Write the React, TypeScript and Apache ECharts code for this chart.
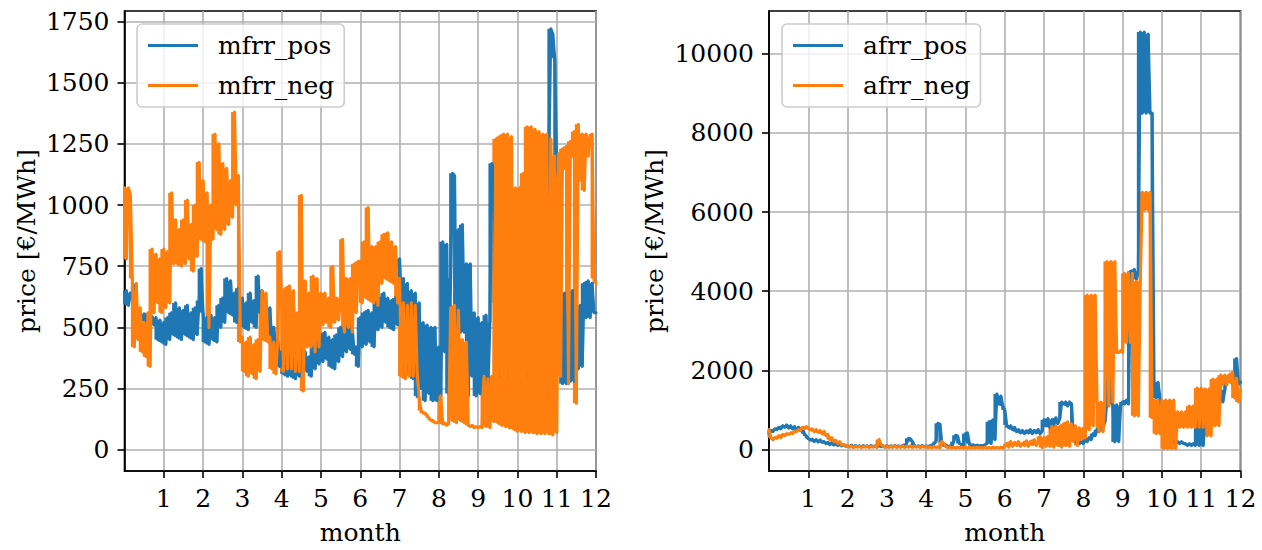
import React, { useEffect, useRef } from "react";
import * as echarts from "echarts";

// sampling step of the series, in months
const STEP = 0.05;
const SAMPLES_PER_MONTH = 20;

const MONTH_TICKS = [1, 2, 3, 4, 5, 6, 7, 8, 9, 10, 11, 12];
const MFRR_TICKS = [0, 250, 500, 750, 1000, 1250, 1500, 1750];
const AFRR_TICKS = [0, 2000, 4000, 6000, 8000, 10000];

// mFRR capacity prices, one row per month (20 samples per month)
const mfrrPos = [
  600, 650, 590, 640, 620, 670, 560, 540, 560, 530, 555, 525, 550, 520, 545, 510, 540, 450, 530, 440,
  520, 430, 540, 450, 560, 470, 600, 460, 580, 450, 570, 470, 590, 460, 560, 450, 580, 470, 610, 740,
  560, 440, 540, 430, 550, 450, 540, 440, 590, 500, 620, 520, 700, 560, 690, 550, 640, 520, 660, 540,
  620, 500, 600, 490, 640, 520, 610, 500, 710, 560, 650, 520, 600, 470, 580, 430, 500, 400, 450, 340,
  400, 310, 380, 300, 390, 300, 370, 290, 380, 300, 410, 320, 400, 320, 380, 300, 420, 330, 440, 350,
  470, 360, 480, 370, 460, 340, 450, 330, 470, 360, 500, 380, 510, 400, 520, 410, 490, 390, 420, 340,
  540, 420, 560, 430, 570, 440, 560, 420, 600, 490, 620, 500, 640, 520, 620, 500, 610, 490, 620, 510,
  780, 600, 700, 300, 680, 320, 650, 290, 640, 220, 600, 250, 520, 200, 510, 230, 500, 200, 500, 200,
  420, 220, 850, 400, 840, 230, 700, 1130, 1120, 300, 900, 480, 920, 480, 760, 220, 760, 300, 560, 220,
  540, 230, 520, 220, 550, 250, 520, 1170, 1150, 600, 800, 300, 900, 350, 700, 300, 800, 350, 900, 400,
  800, 350, 900, 400, 700, 300, 800, 350, 900, 400, 1000, 400, 900, 350, 800, 400, 1200, 1720, 1700, 1600,
  1180, 1100, 650, 270, 640, 270, 600, 280, 650, 280, 600, 330, 590, 340, 680, 540, 690, 540, 680, 560,
  560,
];

const mfrrNeg = [
  1070, 780, 1070, 1040, 700, 420, 680, 450, 580, 400, 520, 380, 560, 340, 820, 560, 800, 600, 780, 560,
  820, 580, 810, 600, 1050, 760, 940, 760, 900, 750, 940, 760, 1020, 780, 920, 730, 1000, 790, 1175, 860,
  1100, 850, 1050, 500, 1000, 860, 1290, 900, 1250, 880, 1170, 900, 1150, 920, 1100, 950, 1380, 1000, 1120, 440,
  460, 320, 440, 300, 460, 310, 430, 290, 450, 320, 650, 450, 640, 440, 460, 330, 440, 310, 450, 810,
  600, 320, 660, 330, 670, 330, 650, 320, 560, 320, 1040, 240, 690, 420, 640, 420, 710, 400, 700, 420,
  640, 510, 640, 520, 620, 500, 750, 520, 620, 530, 620, 860, 480, 700, 500, 700, 480, 760, 560, 770,
  770, 600, 850, 620, 990, 610, 830, 600, 830, 590, 850, 680, 880, 700, 887, 690, 850, 680, 830, 600,
  700, 300, 600, 290, 590, 300, 600, 300, 590, 310, 210, 160, 150, 150, 140, 130, 120, 120, 110, 110,
  110, 220, 105, 110, 100, 105, 580, 120, 590, 110, 570, 120, 450, 110, 440, 100, 95, 100, 90, 95,
  90, 95, 90, 300, 95, 290, 90, 300, 115, 1270, 110, 1280, 100, 1290, 95, 1290, 90, 1280, 85, 1070,
  75, 1070, 75, 1130, 70, 1320, 70, 1320, 70, 1310, 65, 1300, 65, 1290, 65, 1290, 65, 1270, 60, 1200,
  70, 1210, 300, 1230, 1150, 1240, 270, 1260, 1200, 1300, 190, 1330, 1100, 1290, 1060, 1290, 1200, 1280, 1290, 700,
  680,
];

// aFRR capacity prices, one row per month (20 samples per month)
const afrrPos = [
  400, 480, 450, 520, 500, 560, 520, 600, 560, 620, 540, 600, 520, 580, 500, 560, 480, 540, 400, 340,
  280, 240, 260, 200, 250, 190, 240, 180, 200, 150, 180, 120, 170, 110, 150, 100, 140, 90, 120, 80,
  100, 70, 110, 60, 100, 70, 90, 60, 100, 70, 90, 60, 100, 70, 90, 60, 100, 70, 90, 60,
  100, 70, 90, 60, 100, 70, 90, 60, 100, 70, 150, 280, 270, 200, 100, 70, 90, 60, 100, 70,
  90, 60, 100, 70, 150, 200, 660, 640, 150, 100, 120, 70, 90, 60, 200, 360, 340, 150, 120, 80,
  400, 420, 150, 100, 120, 90, 110, 80, 100, 90, 120, 150, 700, 150, 750, 250, 1400, 1150, 1350, 1100,
  1000, 620, 550, 600, 500, 560, 450, 500, 420, 480, 400, 470, 420, 500, 400, 480, 420, 500, 400, 460,
  750, 600, 780, 560, 750, 600, 800, 650, 780, 1200, 1150, 1200, 1100, 1200, 1150, 250, 200, 250, 150, 200,
  150, 250, 200, 300, 250, 400, 350, 500, 450, 600, 550, 700, 1200, 2750, 1180, 1150, 190, 1130, 200, 1100,
  1200, 1150, 1250, 1150, 4500, 4300, 4550, 4300, 4500, 10550, 8500, 10550, 8500, 10500, 8500, 8500, 1700, 1300, 1700, 1300,
  700, 500, 700, 500, 600, 450, 200, 150, 200, 150, 200, 150, 150, 100, 150, 100, 150, 100, 750, 100,
  750, 100, 750, 800, 1000, 900, 1000, 1100, 1200, 1000, 1500, 1200, 1500, 1800, 1850, 1700, 1850, 1600, 2300, 1650,
  1700,
];

const afrrNeg = [
  500, 300, 250, 300, 280, 350, 300, 380, 350, 400, 380, 420, 400, 460, 450, 500, 480, 560, 520, 580,
  540, 500, 520, 450, 500, 430, 480, 400, 460, 350, 380, 250, 300, 200, 230, 150, 200, 110, 130, 90,
  100, 60, 90, 50, 80, 60, 90, 50, 80, 60, 90, 50, 80, 60, 90, 60, 250, 120, 80, 60,
  90, 50, 80, 60, 90, 50, 80, 60, 90, 50, 80, 60, 90, 50, 80, 60, 90, 50, 80, 60,
  80, 50, 70, 40, 80, 50, 70, 40, 200, 150, 80, 40, 70, 40, 60, 30, 60, 40, 60, 30,
  60, 30, 60, 30, 50, 30, 60, 30, 50, 30, 60, 30, 50, 30, 60, 30, 50, 30, 60, 30,
  80, 150, 60, 200, 80, 180, 100, 200, 80, 150, 100, 220, 80, 200, 120, 250, 100, 200, 330, 50,
  300, 80, 330, 80, 580, 60, 600, 100, 580, 60, 650, 100, 700, 80, 650, 200, 600, 100, 550, 250,
  540, 290, 3900, 500, 3900, 600, 3900, 1200, 450, 1200, 450, 1200, 4750, 1100, 4750, 1200, 4750, 2450, 2450, 2500,
  2450, 4450, 2700, 4450, 2700, 4450, 850, 4250, 850, 4250, 6500, 6050, 6500, 6050, 6500, 800, 1250, 400, 1250, 400,
  1250, 20, 1250, 20, 1250, 20, 1250, 20, 950, 560, 950, 560, 950, 560, 1100, 560, 1100, 560, 1550, 560,
  1550, 560, 1530, 340, 1530, 340, 1780, 600, 1780, 600, 1880, 1630, 1880, 1630, 1880, 1700, 1950, 1300, 1800, 1200,
  1500,
];

const BLUE = "#1f77b4";
const ORANGE = "#ff7f0e";
const FONT = "DejaVu Serif";
const FS = 25;
const LW = 3.1;

// sample positions (months) shared by all series
const SAMPLE_MONTHS = mfrrPos.map((_, i) => (i * STEP).toFixed(2));

const isMonthTick = (index: number) =>
  index > 0 && index % SAMPLES_PER_MONTH === 0 && MONTH_TICKS.includes(index / SAMPLES_PER_MONTH);

// low value and height of the range the price covers between a sample and the next
function segmentRanges(values: number[]) {
  const low: number[] = [];
  const span: number[] = [];
  values.forEach((v, i) => {
    const next = i + 1 < values.length ? values[i + 1] : v;
    const a = Math.min(v, next);
    low.push(a);
    span.push(Math.max(v, next) - a);
  });
  return { low, span };
}

function makeX(gridIndex: number) {
  return {
    type: "category",
    gridIndex,
    data: SAMPLE_MONTHS,
    boundaryGap: false,
    name: "month",
    nameLocation: "middle",
    nameGap: 49,
    nameTextStyle: { fontFamily: FONT, fontSize: FS, color: "#000" },
    axisLine: { show: true, onZero: false, lineStyle: { color: "#000", width: 1.6 } },
    axisTick: {
      show: true,
      interval: (i: number) => isMonthTick(i),
      length: 7,
      lineStyle: { color: "#000", width: 1.6 },
    },
    axisLabel: {
      interval: (i: number) => isMonthTick(i),
      formatter: (v: string) => {
        const m = Math.round(parseFloat(v));
        return m === 0 ? "" : String(m);
      },
      fontFamily: FONT,
      fontSize: FS,
      color: "#000",
      margin: 15,
      hideOverlap: false,
    },
    splitLine: {
      show: true,
      interval: (i: number) => isMonthTick(i),
      lineStyle: { color: "#b0b0b0", width: 1.6 },
    },
  };
}

function makeY(gridIndex: number, min: number, max: number, ticks: number[], gap: number) {
  return {
    type: "value",
    gridIndex,
    min,
    max,
    name: "price [€/MWh]",
    nameLocation: "middle",
    nameGap: gap,
    nameTextStyle: { fontFamily: FONT, fontSize: FS, color: "#000" },
    axisLine: { show: true, lineStyle: { color: "#000", width: 1.6 } },
    axisTick: { show: true, customValues: ticks, length: 7, lineStyle: { color: "#000", width: 1.6 } },
    axisLabel: {
      customValues: ticks,
      formatter: (v: number) => String(v),
      fontFamily: FONT,
      fontSize: FS,
      color: "#000",
      margin: 15,
    },
    splitLine: { show: true, lineStyle: { color: "#b0b0b0", width: 1.6 } },
  };
}

function makeLegend(names: string[], left: number, top: number) {
  return {
    data: names.map((n) => ({ name: n, icon: "rect" })),
    left,
    top,
    orient: "vertical",
    padding: [9, 10, 9, 11],
    itemGap: 15,
    itemWidth: 50,
    itemHeight: 3.1,
    borderColor: "#cccccc",
    borderWidth: 1.6,
    borderRadius: 5,
    backgroundColor: "rgba(255,255,255,0.8)",
    textStyle: { fontFamily: FONT, fontSize: FS, color: "#000", padding: [0, 0, 0, 15] },
  };
}

// floating bars (transparent base + coloured span) fill the band swept by the
// oscillating price, and the line is drawn over them
function makeSeries(name: string, values: number[], idx: number, color: string) {
  const { low, span } = segmentRanges(values);
  const barCommon = {
    type: "bar",
    xAxisIndex: idx,
    yAxisIndex: idx,
    stack: name + "_band",
    barWidth: 3,
    barGap: "-100%",
    silent: true,
    large: false,
    clip: true,
  };
  const base = { ...barCommon, id: name + "_base", data: low, itemStyle: { color: "rgba(0,0,0,0)" } };
  const band = { ...barCommon, id: name + "_band", data: span, itemStyle: { color, opacity: 1 } };
  const line = {
    name,
    type: "line",
    xAxisIndex: idx,
    yAxisIndex: idx,
    data: values,
    symbol: "none",
    showSymbol: false,
    color,
    itemStyle: { color },
    lineStyle: { color, width: LW, join: "round", cap: "round" },
    clip: true,
  };
  return [base, band, line];
}

export default function App() {
  const ref = useRef<HTMLDivElement>(null);
  useEffect(() => {
    if (!ref.current) return;
    const chart = echarts.init(ref.current, null, { renderer: "svg" });
    chart.setOption({
      animation: false,
      backgroundColor: "#fff",
      grid: [
        { left: 124.5, top: 11, width: 471.5, height: 466.3, show: true, borderColor: "#000", borderWidth: 1.6 },
        { left: 769, top: 11, width: 471.5, height: 466.3, show: true, borderColor: "#000", borderWidth: 1.6 },
      ],
      xAxis: [makeX(0), makeX(1)],
      yAxis: [makeY(0, -87, 1793, MFRR_TICKS, 86), makeY(1, -544, 11080, AFRR_TICKS, 102)],
      legend: [makeLegend(["mfrr_pos", "mfrr_neg"], 137, 24), makeLegend(["afrr_pos", "afrr_neg"], 782, 24)],
      series: [
        ...makeSeries("mfrr_pos", mfrrPos, 0, BLUE),
        ...makeSeries("mfrr_neg", mfrrNeg, 0, ORANGE),
        ...makeSeries("afrr_pos", afrrPos, 1, BLUE),
        ...makeSeries("afrr_neg", afrrNeg, 1, ORANGE),
      ],
    });
    return () => chart.dispose();
  }, []);
  return (
    <div
      ref={ref}
      style={{ position: "fixed", left: 0, top: 0, width: 1262, height: 550, background: "#fff" }}
    />
  );
}
